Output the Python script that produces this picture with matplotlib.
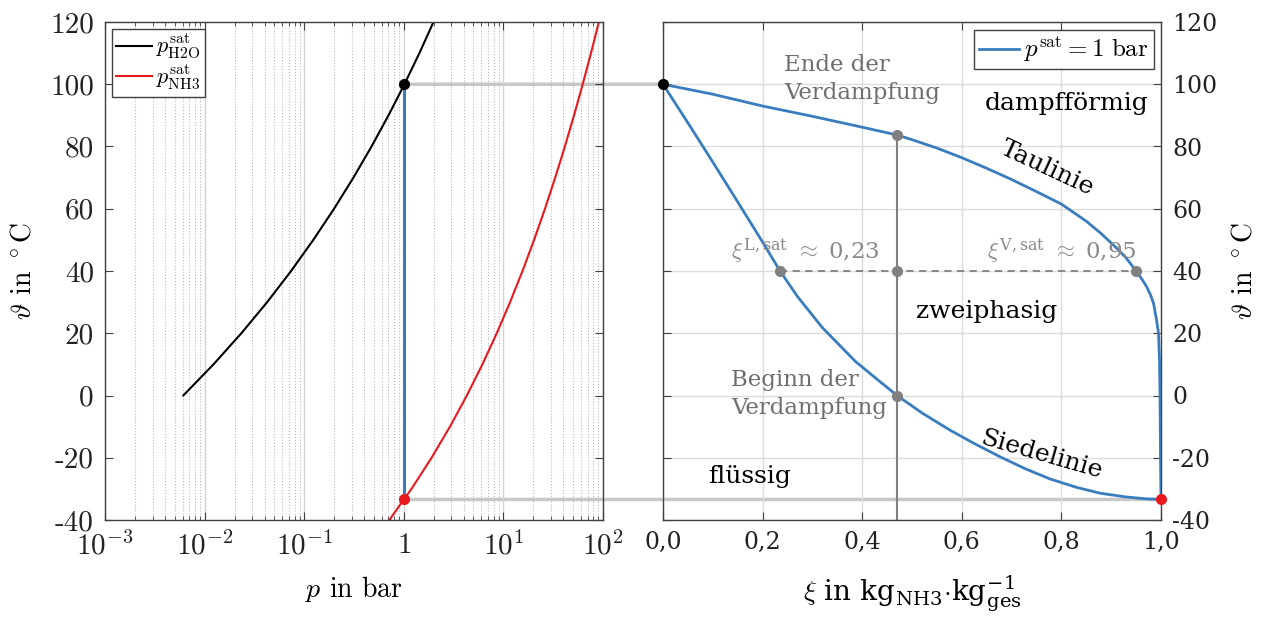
import numpy as np
import matplotlib
matplotlib.use('Agg')
import matplotlib.pyplot as plt
from matplotlib.patches import ConnectionPatch
from matplotlib.ticker import LogLocator, NullFormatter

plt.rcParams['mathtext.fontset'] = 'cm'

# Sattdampfdruck Wasser (bar) ueber Temperatur (degC)
T_h2o = [0, 10, 20, 30, 40, 50, 60, 70, 80, 90, 100, 110, 120]
p_h2o = [0.00611, 0.01228, 0.02339, 0.04247, 0.07384, 0.1235, 0.1995,
         0.3120, 0.4742, 0.7018, 1.0142, 1.4338, 1.9867]

# Sattdampfdruck Ammoniak (bar)
T_nh3 = [-40, -33.4, -30, -20, -10, 0, 10, 20, 30, 40, 50, 60, 70, 80, 90, 100, 110, 120]
p_nh3 = [0.717, 1.0, 1.195, 1.901, 2.908, 4.294, 6.150, 8.575, 11.67, 15.55,
         20.33, 26.15, 33.13, 41.42, 51.17, 62.55, 75.74, 90.9]

# Taulinie NH3-H2O bei 1 bar
xi_dew = [0.0, 0.1, 0.2, 0.3, 0.4, 0.47, 0.5, 0.55, 0.6, 0.65, 0.7, 0.75, 0.8,
          0.85, 0.88, 0.91, 0.93, 0.95, 0.962, 0.971, 0.979, 0.985, 0.991,
          0.995, 0.997, 0.998, 0.999, 1.0]
T_dew = [100, 96.8, 93.0, 89.7, 86.2, 83.7, 82.2, 79.5, 76.4, 73.0, 69.4, 65.5, 61.5,
         56.0, 52.0, 47.5, 44.2, 40.0, 37.3, 35.0, 32.3, 29.6, 24.3,
         20.0, 11.4, 0.7, -20.0, -33.4]

# Siedelinie NH3-H2O bei 1 bar
xi_bub = [0.0, 0.05, 0.1, 0.15, 0.2, 0.235, 0.27, 0.32, 0.386, 0.43, 0.47, 0.52,
          0.576, 0.627, 0.677, 0.727, 0.777, 0.83, 0.878, 0.93, 0.97, 1.0]
T_bub = [100, 87.6, 75.0, 62.2, 49.3, 40.0, 31.8, 21.8, 11.0, 5.2, 0.0, -5.6,
         -11.1, -15.6, -19.7, -23.5, -26.8, -29.5, -31.4, -32.6, -33.2, -33.4]

xi_cut = 0.47
xi_L, xi_V, T_mid = 0.235, 0.95, 40
T_end, T_start = 83.7, 0
T_sat_h2o, T_sat_nh3 = 100, -33.4

blue = '#3a7dbf'
red = '#e8191c'
grey = '#808080'
spine = '#404040'
cm = 'cmr10'
serif = 'DejaVu Serif'

fig = plt.figure(figsize=(12.62, 6.26), dpi=100)
ax1 = fig.add_axes([105/1262, 106/626, 498/1262, 498/626])
ax2 = fig.add_axes([663/1262, 106/626, 498/1262, 498/626])
for ax in (ax1, ax2):
    ax.set_facecolor('none')
    for s in ax.spines.values():
        s.set_color(spine)
        s.set_linewidth(1.0)

# --- links: p-T Diagramm ---
ax1.set_xscale('log')
ax1.set_xlim(1e-3, 1e2)
ax1.set_ylim(-40, 120)
ax1.plot(p_h2o, T_h2o, color='k', lw=1.5, label=r'$p^{\rm sat}_{\rm H2O}$')
ax1.plot(p_nh3, T_nh3, color=red, lw=1.5, label=r'$p^{\rm sat}_{\rm NH3}$')
ax1.plot([1, 1], [T_sat_nh3, T_sat_h2o], color=blue, lw=2.2)
ax1.plot(1, T_sat_h2o, 'o', color='k', ms=7, zorder=5)
ax1.plot(1, T_sat_nh3, 'o', color=red, ms=7, zorder=5)

ax1.xaxis.set_major_locator(LogLocator(base=10, numticks=10))
ax1.xaxis.set_minor_locator(LogLocator(base=10, subs=np.arange(2, 10), numticks=100))
ax1.xaxis.set_minor_formatter(NullFormatter())
ax1.set_xticks([1e-3, 1e-2, 1e-1, 1, 1e1, 1e2])
ax1.set_xticklabels([r'$10^{-3}$', r'$10^{-2}$', r'$10^{-1}$', r'$1$', r'$10^{1}$', r'$10^{2}$'],
                    fontsize=21)
ax1.set_yticks(range(-40, 121, 20))
ax1.set_yticklabels([str(v) for v in range(-40, 121, 20)], fontname=cm, fontsize=21)
ax1.grid(True, which='major', axis='x', color='#d4d4d4', lw=1.0)
ax1.grid(True, which='minor', axis='x', color='#b8b8b8', ls=':', lw=0.8)
ax1.tick_params(which='both', direction='in', top=True, right=True, colors=spine,
                labelcolor='#222222')
ax1.tick_params(which='major', length=6, pad=8)
ax1.tick_params(which='minor', length=3)
ax1.set_xlabel(r'$p$ in bar', fontname=cm, fontsize=20, labelpad=10)
ax1.set_ylabel(r'$\vartheta$ in $^\circ$C', fontname=cm, fontsize=20, labelpad=10)
leg1 = ax1.legend(loc='upper left', fontsize=16, handlelength=1.6, handletextpad=0.2,
                  borderpad=0.2, labelspacing=0.1, fancybox=False, framealpha=1,
                  edgecolor=spine, borderaxespad=0.3)
leg1.get_frame().set_linewidth(1.0)

# --- rechts: T-xi Diagramm ---
ax2.set_xlim(0, 1)
ax2.set_ylim(-40, 120)
ax2.plot(xi_dew, T_dew, color=blue, lw=2, label=r'$p^{\rm sat} = 1\ {\rm bar}$', zorder=3)
ax2.plot(xi_bub, T_bub, color=blue, lw=2, zorder=3)
ax2.plot([xi_cut, xi_cut], [-40, T_end], color=grey, lw=1.5, zorder=2)
ax2.plot([xi_L, xi_V], [T_mid, T_mid], color=grey, lw=1.3, ls=(0, (4, 3)), zorder=2)
ax2.plot([xi_L, xi_cut, xi_V, xi_cut, xi_cut], [T_mid, T_mid, T_mid, T_end, T_start],
         'o', color=grey, ms=7, zorder=4)
ax2.plot(0, T_sat_h2o, 'o', color='k', ms=7, zorder=5, clip_on=False)
ax2.plot(1, T_sat_nh3, 'o', color=red, ms=7, zorder=5, clip_on=False)

ax2.set_xticks(np.arange(0, 1.01, 0.2))
ax2.set_xticklabels(['0,0', '0,2', '0,4', '0,6', '0,8', '1,0'], fontname=serif, fontsize=17)
ax2.set_yticks(range(-40, 121, 20))
ax2.set_yticklabels([str(v) for v in range(-40, 121, 20)], fontname=serif, fontsize=17)
ax2.grid(True, color='#dcdcdc', lw=1.0)
ax2.tick_params(direction='in', top=True, left=True, right=True, labelleft=False,
                labelright=True, length=6, pad=8, colors=spine, labelcolor='#222222')
ax2.yaxis.set_label_position('right')
ax2.set_ylabel(r'$\vartheta$ in $^\circ$C', fontname=cm, fontsize=20, labelpad=10)
ax2.set_xlabel(r'$\xi$ in kg$_\mathregular{NH3}$$\cdot$kg$_\mathregular{ges}^\mathregular{-1}$',
               fontname=serif, fontsize=20, labelpad=14)
leg2 = ax2.legend(loc='upper right', fontsize=18, handlelength=1.6, handletextpad=0.2,
                  borderpad=0.2, fancybox=False, framealpha=1, edgecolor=spine,
                  borderaxespad=0.3)
leg2.get_frame().set_linewidth(1.0)

gtxt = dict(fontname=serif, fontsize=16.5, color='#6e6e6e')
btxt = dict(fontname=serif, fontsize=18, color='k', ha='center', va='center')
ax2.text(0.243, 101.7, 'Ende der\nVerdampfung', ha='left', va='center',
         linespacing=1.35, **gtxt)
ax2.text(0.137, 0.6, 'Beginn der\nVerdampfung', ha='left', va='center',
         linespacing=1.35, **gtxt)
ax2.text(0.81, 93.7, 'dampfförmig', **btxt)
ax2.text(0.65, 27, 'zweiphasig', **btxt)
ax2.text(0.173, -26, 'flüssig', **btxt)
ax2.text(0.772, 73, 'Taulinie', rotation=-25, **btxt)
ax2.text(0.762, -19, 'Siedelinie', rotation=-16, **btxt)
ax2.text(0.285, 46.5, r'$\xi^\mathregular{L,sat}$ $\approx$ 0,23', ha='center', va='center',
         fontname=serif, fontsize=16.5, color='#8a8a8a')
ax2.text(0.80, 46.5, r'$\xi^\mathregular{V,sat}$ $\approx$ 0,95', ha='center', va='center',
         fontname=serif, fontsize=16.5, color='#8a8a8a')

# Verbindungslinien zwischen beiden Diagrammen
for xa, xb, T in [(1, 0, T_sat_h2o), (1, 1, T_sat_nh3)]:
    con = ConnectionPatch(xyA=(xa, T), coordsA=ax1.transData, xyB=(xb, T),
                          coordsB=ax2.transData, color='#c8c8c8', lw=2.5, zorder=-1)
    fig.add_artist(con)

fig.savefig('out.png', dpi=100, facecolor='white')
